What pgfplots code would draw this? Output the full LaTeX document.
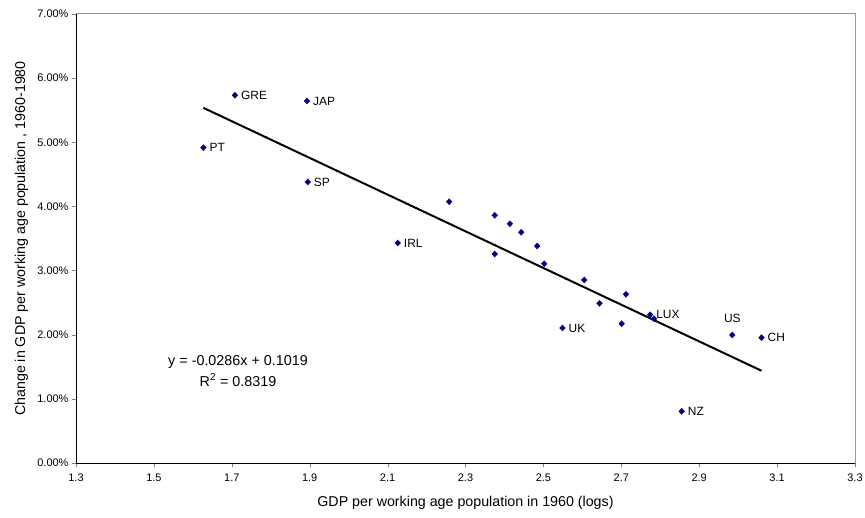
\documentclass[border=0pt]{standalone}
\usepackage{pgfplots}
\pgfplotsset{compat=1.18}
\usepackage{fontspec}
\setmainfont{Liberation Sans}
\definecolor{ptnavy}{RGB}{0,0,128}
\definecolor{framegray}{RGB}{150,150,150}
\begin{document}
\begin{tikzpicture}
\begin{axis}[
    scale only axis,
    width=779bp, height=449bp,
    xmin=1.3, xmax=3.3,
    ymin=0, ymax=7,
    xtick={1.3,1.5,...,3.31},
    ytick={0,1,...,7},
    axis x line*=bottom,
    axis y line*=left,
    tick align=outside,
    major tick length=4bp,
    /pgf/number format/assume math mode=true,
    xticklabel={\pgfmathprintnumber[fixed,fixed zerofill,precision=1]{\tick}},
    yticklabel={\pgfmathprintnumber[fixed,fixed zerofill,precision=2]{\tick}\%},
    tick label style={font=\fontsize{11}{13}\selectfont},
    xticklabel style={yshift=-3bp},
    xlabel={GDP per working age population in 1960 (logs)},
    ylabel={Change in GDP per working age population , 1960-1980},
    label style={font=\fontsize{14.3}{17}\selectfont},
    x label style={at={(axis description cs:0.5,-0.089)},anchor=center},
    y label style={at={(axis description cs:-0.070,0.5)},anchor=center},
    clip=false,
]
% trend line y = -0.0286x + 0.1019 over the data range
\addplot[black, line width=2bp] coordinates {(1.627,5.537) (3.060,1.438)};

\addplot[only marks, mark=diamond*, mark size=3bp, ptnavy,
         mark options={fill=ptnavy, draw=ptnavy, xscale=1.25}] table {
x     y
1.708 5.733
1.627 4.916
1.893 5.644
1.895 4.381
2.126 3.430
2.258 4.074
2.375 3.862
2.414 3.731
2.443 3.597
2.484 3.383
2.375 3.258
2.502 3.107
2.605 2.853
2.712 2.630
2.644 2.490
2.774 2.312
2.784 2.250
2.701 2.172
2.549 2.105
2.985 1.996
3.060 1.954
2.855 0.806
};

\begin{scope}[every node/.style={font=\fontsize{12}{14}\selectfont, anchor=west, inner sep=0pt, xshift=6bp}]
\node at (axis cs:1.708,5.733) {GRE};
\node at (axis cs:1.627,4.916) {PT};
\node at (axis cs:1.893,5.644) {JAP};
\node at (axis cs:1.895,4.381) {SP};
\node at (axis cs:2.126,3.430) {IRL};
\node at (axis cs:2.774,2.312) {LUX};
\node at (axis cs:2.549,2.105) {UK};
\node at (axis cs:3.060,1.954) {CH};
\node at (axis cs:2.855,0.806) {NZ};
\end{scope}
\node[font=\fontsize{12}{14}\selectfont, inner sep=0pt] at (axis cs:2.985,2.261) {US};

\node[font=\fontsize{14.4}{20.5}\selectfont, align=center, inner sep=0pt] at (axis cs:1.716,1.434)
  {y = -0.0286x + 0.1019\\R\textsuperscript{2} = 0.8319};

\draw[framegray, line width=1bp] (rel axis cs:0,1) -- (rel axis cs:1,1) -- (rel axis cs:1,0);
\end{axis}
\pgfresetboundingbox
\useasboundingbox (-76bp,-55bp) rectangle (789bp,463bp);
\end{tikzpicture}
\end{document}
